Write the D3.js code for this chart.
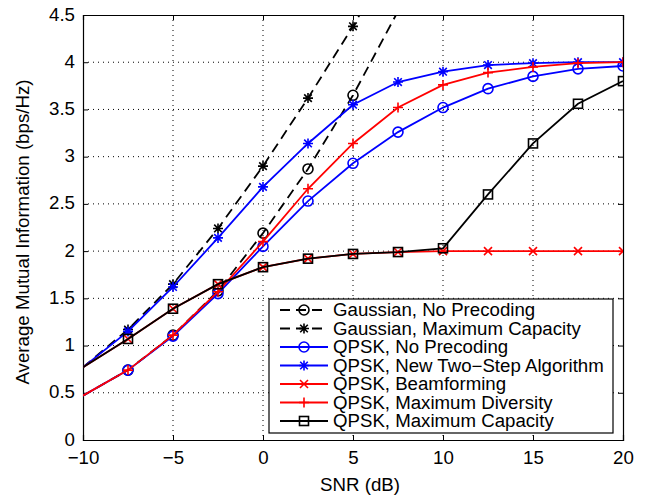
<!DOCTYPE html>
<html><head><meta charset="utf-8">
<script src="https://cdn.jsdelivr.net/npm/d3@7"></script>
<style>body{margin:0;background:#fff;} text{font-family:"Liberation Sans",Arial,sans-serif;}</style>
</head><body>
<svg id="c" width="647" height="498"></svg>
<script>
const snr = [-10, -7.5, -5, -2.5, 0, 2.5, 5, 7.5, 10, 12.5, 15, 17.5, 20];
const gaussNoPre   = [0.47, 0.74, 1.11, 1.58, 2.19, 2.87, 3.65, 4.54];
const gaussMaxCap  = [0.77, 1.17, 1.65, 2.24, 2.90, 3.62, 4.38, 5.20];
const qpskNoPre    = [0.47, 0.74, 1.10, 1.55, 2.05, 2.53, 2.93, 3.26, 3.52, 3.72, 3.85, 3.93, 3.96];
const qpskTwoStep  = [0.77, 1.15, 1.62, 2.14, 2.68, 3.14, 3.55, 3.79, 3.90, 3.97, 3.99, 4.00, 4.00];
const qpskBeam     = [0.77, 1.07, 1.39, 1.65, 1.83, 1.92, 1.97, 1.99, 2.00, 2.00, 2.00, 2.00, 2.00];
const qpskMaxDiv   = [0.47, 0.74, 1.11, 1.57, 2.10, 2.66, 3.14, 3.52, 3.76, 3.89, 3.95, 3.99, 4.00];
const qpskMaxCap   = [0.77, 1.07, 1.39, 1.65, 1.83, 1.92, 1.97, 1.99, 2.03, 2.60, 3.14, 3.56, 3.80];
const seriesNames = ["Gaussian, No Precoding", "Gaussian, Maximum Capacity", "QPSK, No Precoding",
  "QPSK, New Two\u2212Step Algorithm", "QPSK, Beamforming", "QPSK, Maximum Diversity", "QPSK, Maximum Capacity"];
const xTicks = [-10, -5, 0, 5, 10, 15, 20];
const yTicks = [0, 0.5, 1, 1.5, 2, 2.5, 3, 3.5, 4, 4.5];

const series = [
  {name: seriesNames[0], vals: gaussNoPre,  color: "#000", dash: "10,6", marker: "circle"},
  {name: seriesNames[1], vals: gaussMaxCap, color: "#000", dash: "10,6", marker: "star"},
  {name: seriesNames[2], vals: qpskNoPre,   color: "#0000ff", dash: null, marker: "circle"},
  {name: seriesNames[3], vals: qpskTwoStep, color: "#0000ff", dash: null, marker: "star"},
  {name: seriesNames[4], vals: qpskBeam,    color: "#ff0000", dash: null, marker: "x"},
  {name: seriesNames[5], vals: qpskMaxDiv,  color: "#ff0000", dash: null, marker: "plus"},
  {name: seriesNames[6], vals: qpskMaxCap,  color: "#000", dash: null, marker: "square"}
];

const W = 647, H = 498, m = {l: 83, r: 24, t: 15, b: 58};
const svg = d3.select("#c");
const x = d3.scaleLinear().domain([-10, 20]).range([m.l, W - m.r]);
const y = d3.scaleLinear().domain([0, 4.5]).range([H - m.b, m.t]);

svg.append("defs").append("clipPath").attr("id", "clip")
  .append("rect").attr("x", m.l).attr("y", m.t).attr("width", W - m.l - m.r).attr("height", H - m.t - m.b);

// grid
const g = svg.append("g");
g.selectAll(".vg").data(xTicks.slice(1, -1)).join("line")
  .attr("x1", d => x(d)).attr("x2", d => x(d)).attr("y1", m.t).attr("y2", H - m.b)
  .attr("stroke", "#000").attr("stroke-width", 1).attr("stroke-dasharray", "1,4");
g.selectAll(".hg").data(yTicks.slice(1, -1)).join("line")
  .attr("y1", d => y(d)).attr("y2", d => y(d)).attr("x1", m.l).attr("x2", W - m.r)
  .attr("stroke", "#000").attr("stroke-width", 1).attr("stroke-dasharray", "1,4");

// axes
const fs = 18.7;
const axB = svg.append("g").attr("transform", `translate(0,${H - m.b})`)
  .call(d3.axisBottom(x).tickValues(xTicks).tickSize(-5).tickPadding(11).tickFormat(d => d < 0 ? "\u2212" + Math.abs(d) : d));
const axL = svg.append("g").attr("transform", `translate(${m.l},0)`)
  .call(d3.axisLeft(y).tickValues(yTicks).tickSize(-5).tickPadding(8).tickFormat(d => d));
const axT = svg.append("g").attr("transform", `translate(0,${m.t})`)
  .call(d3.axisTop(x).tickValues(xTicks).tickSize(-5).tickFormat(""));
const axR = svg.append("g").attr("transform", `translate(${W - m.r},0)`)
  .call(d3.axisRight(y).tickValues(yTicks).tickSize(-5).tickFormat(""));
[axB, axL, axT, axR].forEach(a => {
  a.select(".domain").attr("stroke", "#000").attr("stroke-width", 1.2);
  a.selectAll(".tick line").attr("stroke", "#000");
  a.selectAll("text").attr("font-size", fs).attr("fill", "#000").attr("font-family", "Liberation Sans, Arial, sans-serif");
});
axL.selectAll(".tick text").attr("dy", "0.27em");

svg.append("text").attr("x", 360).attr("y", 491).attr("text-anchor", "middle")
  .attr("font-size", fs).text("SNR (dB)");
svg.append("text").attr("transform", `translate(29,232) rotate(-90)`)
  .attr("text-anchor", "middle").attr("font-size", fs).text("Average Mutual Information (bps/Hz)");

function drawMarker(sel, type, color) {
  const r = 5;
  if (type === "circle") {
    sel.append("circle").attr("r", r).attr("fill", "none").attr("stroke", color).attr("stroke-width", 1.6);
  } else if (type === "square") {
    sel.append("rect").attr("x", -4.5).attr("y", -4.5).attr("width", 9).attr("height", 9)
      .attr("fill", "none").attr("stroke", color).attr("stroke-width", 1.6);
  } else if (type === "plus") {
    sel.append("path").attr("d", `M${-r},0H${r}M0,${-r}V${r}`).attr("stroke", color).attr("stroke-width", 1.6).attr("fill", "none");
  } else if (type === "x") {
    const a = 4;
    sel.append("path").attr("d", `M${-a},${-a}L${a},${a}M${-a},${a}L${a},${-a}`).attr("stroke", color).attr("stroke-width", 1.6).attr("fill", "none");
  } else if (type === "star") {
    const a = 3.8;
    sel.append("path").attr("d", `M${-r},0H${r}M0,${-r}V${r}M${-a},${-a}L${a},${a}M${-a},${a}L${a},${-a}`)
      .attr("stroke", color).attr("stroke-width", 1.6).attr("fill", "none");
  }
}

const line = d3.line().x(d => x(d[0])).y(d => y(d[1]));
const plot = svg.append("g").attr("clip-path", "url(#clip)");
series.forEach(s => {
  const pts = s.vals.map((v, i) => [snr[i], v]);
  plot.append("path").datum(pts).attr("d", line).attr("fill", "none")
    .attr("stroke", s.color).attr("stroke-width", 1.8)
    .attr("stroke-dasharray", s.dash);
  pts.filter(p => p[0] > -10 && p[1] <= 4.5).forEach(p => {
    const mg = plot.append("g").attr("transform", `translate(${x(p[0])},${y(p[1])})`);
    drawMarker(mg, s.marker, s.color);
  });
});

// legend
const lfs = 17.6;
const lg = svg.append("g").attr("transform", "translate(269,299)");
lg.append("rect").attr("width", 344).attr("height", 134).attr("fill", "#fff").attr("stroke", "#000").attr("stroke-width", 1.2);
series.forEach((s, i) => {
  const yy = 11 + i * 18.5;
  lg.append("line").attr("x1", 11).attr("x2", 59).attr("y1", yy).attr("y2", yy)
    .attr("stroke", s.color).attr("stroke-width", 1.8).attr("stroke-dasharray", s.dash);
  const mg = lg.append("g").attr("transform", `translate(35,${yy})`);
  drawMarker(mg, s.marker, s.color);
  lg.append("text").attr("x", 64).attr("y", yy).attr("dy", "0.36em").attr("font-size", lfs)
    .attr("textLength", null).text(s.name);
});
// stretch legend text horizontally to match reference widths
lg.selectAll("text").each(function () {
  const w = this.getComputedTextLength();
  d3.select(this).attr("textLength", w * 1.06).attr("lengthAdjust", "spacingAndGlyphs");
});
</script>
</body></html>
